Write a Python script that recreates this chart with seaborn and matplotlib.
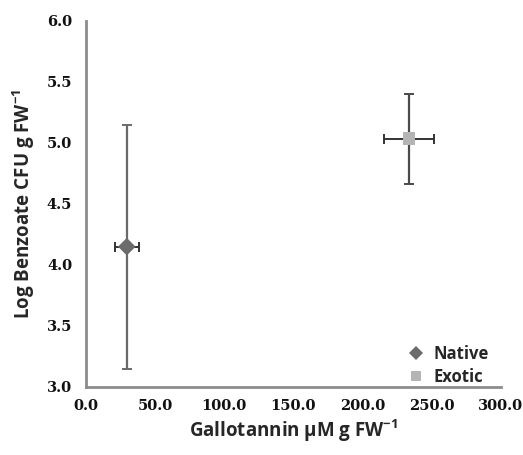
import pandas as pd
import seaborn as sns
import matplotlib.pyplot as plt

groups = ['Native', 'Exotic']
gallotannin = [29.5, 233.5]
gallotannin_err = [8.5, 18.3]
log_cfu = [4.15, 5.035]
log_cfu_err_low = [1.0, 0.37]
log_cfu_err_high = [1.0, 0.37]

x_ticks = [0, 50, 100, 150, 200, 250, 300]
y_ticks = [3.0, 3.5, 4.0, 4.5, 5.0, 5.5, 6.0]

df = pd.DataFrame({'group': groups, 'x': gallotannin, 'y': log_cfu})

sns.set_style('white')
# tick labels take the global font, so make it a bold serif
plt.rcParams['font.family'] = ['DejaVu Serif']
plt.rcParams['font.weight'] = 'bold'
plt.rcParams['mathtext.fontset'] = 'custom'
plt.rcParams['mathtext.bf'] = 'Open Sans:bold'
plt.rcParams['mathtext.rm'] = 'Open Sans'

fig = plt.figure(figsize=(5.23, 4.55), dpi=100)
ax = fig.add_axes([0.1644, 0.1495, 0.7935, 0.8045])

# error bars first, then markers on top
ebar_y_colors = ['#6a6a6a', '#4a4a4a']
ebar_x_colors = ['#333333', '#333333']
for i in range(len(groups)):
    ax.errorbar(gallotannin[i], log_cfu[i],
                yerr=[[log_cfu_err_low[i]], [log_cfu_err_high[i]]],
                fmt='none', ecolor=ebar_y_colors[i], elinewidth=1.6,
                capsize=3.5, capthick=1.4, zorder=2)
    ax.errorbar(gallotannin[i], log_cfu[i], xerr=gallotannin_err[i],
                fmt='none', ecolor=ebar_x_colors[i], elinewidth=1.4,
                capsize=3.5, capthick=1.4, zorder=2)

sns.scatterplot(data=df, x='x', y='y', hue='group', style='group',
                palette={'Native': '#6b6b6b', 'Exotic': '#b4b4b4'},
                markers={'Native': 'D', 'Exotic': 's'},
                s=80, linewidth=0, ax=ax, zorder=3)

ax.set_xlim(0, 300)
ax.set_ylim(3.0, 6.0)
ax.set_xticks(x_ticks)
ax.set_xticklabels([f'{t:.1f}' for t in x_ticks])
ax.set_yticks(y_ticks)
ax.set_yticklabels([f'{t:.1f}' for t in y_ticks])

for side in ['top', 'right']:
    ax.spines[side].set_visible(False)
for side in ['left', 'bottom']:
    ax.spines[side].set_color('#8c8c8c')
    ax.spines[side].set_linewidth(2)

ax.tick_params(axis='both', direction='out', length=4, width=1.5,
               color='#8c8c8c', labelcolor='#111111', labelsize=10.5, pad=6)
ax.tick_params(axis='x', pad=5)

ax.set_xlabel(r'Gallotannin $\mathbf{\mu}$M g FW$^{\mathbf{-1}}$',
              fontfamily='Open Sans', fontweight='bold', fontsize=13.5, labelpad=3)
ax.set_ylabel(r'Log Benzoate CFU g FW$^{\mathbf{-1}}$',
              fontfamily='Open Sans', fontweight='bold', fontsize=13.5, labelpad=7)

leg = ax.legend(loc='lower right', frameon=False, title=None,
                prop={'family': 'Open Sans', 'weight': 'bold', 'size': 12},
                handletextpad=0.0, labelspacing=0.3, markerscale=0.75,
                borderaxespad=0.1, bbox_to_anchor=(0.99, -0.02))

fig.savefig('out.png', dpi=100)
